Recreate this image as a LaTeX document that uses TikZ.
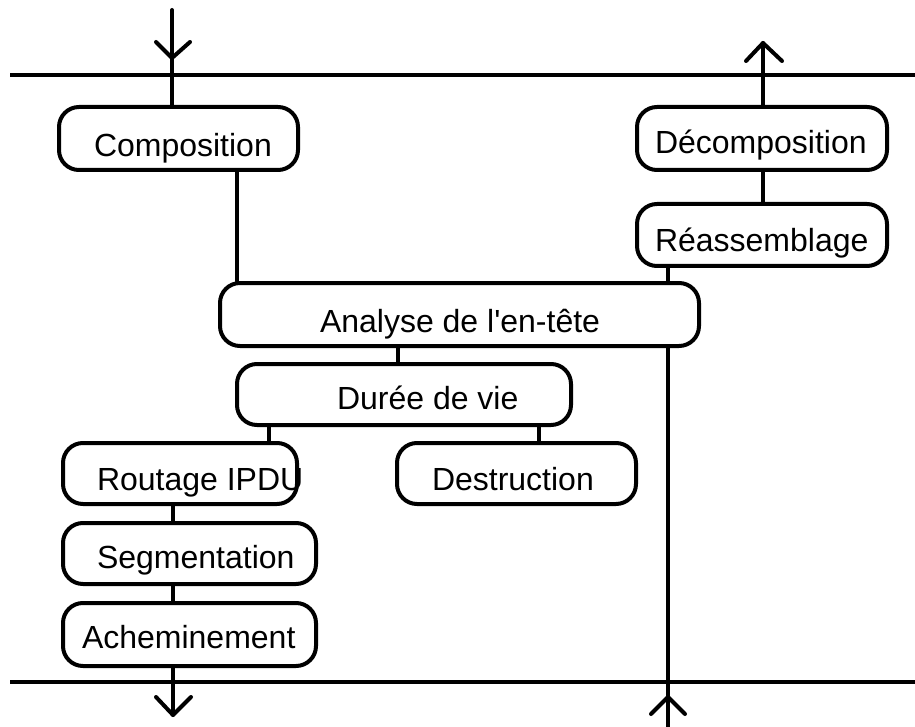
\documentclass[tikz,border=0pt]{standalone}
\usepackage{fontspec}
\setmainfont{Liberation Sans}[Ligatures=TeXOff]
\begin{document}
\begin{tikzpicture}[x=1pt,y=-1pt,
  line width=4pt, line cap=round, line join=round,
  boxst/.style={draw, rounded corners=20pt, inner sep=0pt, fill=white},
  lbl/.style={anchor=base west, inner sep=0pt, font=\fontsize{32}{38}\selectfont}]
\useasboundingbox (0,0) rectangle (915,727);
% bus lines
\coordinate (tl) at (10,75); \coordinate (tr) at (915,75);
\coordinate (bl) at (10,682); \coordinate (br) at (915,682);
\draw[line cap=butt] (tl) -- (tr);
\draw[line cap=butt] (bl) -- (br);
% x positions
\coordinate (x172) at (172,0);
\coordinate (x237) at (237,0);
\coordinate (x763) at (763,0);
\coordinate (x668) at (668,0);
\coordinate (x398) at (398,0);
\coordinate (x269) at (269,0);
\coordinate (x539) at (539,0);
\coordinate (x173) at (173,0);
% boxes
\node[boxst, minimum width=239pt, minimum height=63pt] (comp) at (178.5,138.5) {};
\node[boxst, minimum width=250pt, minimum height=63pt] (decomp) at (762,138.5) {};
\node[boxst, minimum width=250pt, minimum height=62pt] (reass) at (762,235) {};
\node[boxst, minimum width=479pt, minimum height=63pt] (anal) at (459.5,314.5) {};
\node[boxst, minimum width=334pt, minimum height=61pt] (duree) at (404,394.5) {};
\node[boxst, minimum width=234pt, minimum height=61pt] (rout) at (180,473.5) {};
\node[boxst, minimum width=239pt, minimum height=61pt] (destr) at (516.5,473.5) {};
\node[boxst, minimum width=253pt, minimum height=61pt] (segm) at (189.5,553.5) {};
\node[boxst, minimum width=253pt, minimum height=63pt] (achem) at (189.5,634.5) {};
% texts
\node[lbl] (tcomp) at (92,157) {Composition};
\node[lbl] (tdecomp) at (653,154) {Décomposition};
\node[lbl] (treass) at (653,252) {Réassemblage};
\node[lbl] (tanal) at (318,332) {Analyse de l'en-tête};
\node[lbl] (tduree) at (335,409) {Durée de vie};
\node[lbl] (trout) at (95,490) {Routage IPDU};
\node[lbl] (tdestr) at (430,490) {Destruction};
\node[lbl] (tsegm) at (95,568) {Segmentation};
\node[lbl] (tachem) at (80,648) {Acheminement};
% input arrow top-left
\coordinate (inTop) at (172,10);
\coordinate (inTip) at (172,58);
\coordinate (inW1) at (156,42);
\coordinate (inW2) at (190,42);
\draw (inTop) -- (comp.north -| x172);
\draw (inW1) -- (inTip) -- (inW2);
% output arrow top-right
\coordinate (outTip) at (763,43);
\coordinate (outW1) at (746,61);
\coordinate (outW2) at (782,61);
\draw (decomp.north -| x763) -- (outTip);
\draw (outW1) -- (outTip) -- (outW2);
% links
\draw (comp.south -| x237) -- (anal.north -| x237);
\draw (decomp.south -| x763) -- (reass.north -| x763);
\draw (reass.south -| x668) -- (anal.north -| x668);
\draw (anal.south -| x398) -- (duree.north -| x398);
\draw (duree.south -| x269) -- (rout.north -| x269);
\draw (duree.south -| x539) -- (destr.north -| x539);
\draw (rout.south -| x173) -- (segm.north -| x173);
\draw (segm.south -| x173) -- (achem.north -| x173);
% output arrow bottom-left
\coordinate (dTip) at (173,715);
\coordinate (dW1) at (156,697);
\coordinate (dW2) at (191,697);
\draw (achem.south -| x173) -- (dTip);
\draw (dW1) -- (dTip) -- (dW2);
% input arrow bottom-right
\coordinate (uBot) at (668,727);
\coordinate (uTip) at (668,697);
\coordinate (uW1) at (651,714);
\coordinate (uW2) at (685,714);
\draw[line cap=butt] (uBot) -- (anal.south -| x668);
\draw (uW1) -- (uTip) -- (uW2);
\end{tikzpicture}
\end{document}
